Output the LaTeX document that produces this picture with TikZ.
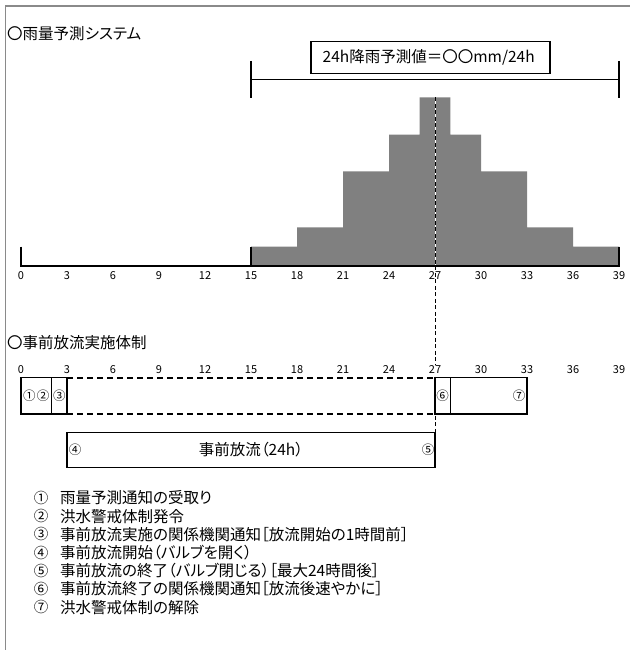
\documentclass[tikz,border=0pt]{standalone}
\usepackage{fontspec}
\setmainfont{Noto Sans CJK JP}[RawFeature=+palt]
\newfontfamily\numfont{Noto Sans CJK JP}
\definecolor{framegray}{HTML}{8A8A8A}
\definecolor{bargray}{HTML}{808080}
\begin{document}
\begin{tikzpicture}[x=1pt,y=-1pt,
  title/.style={anchor=west,inner sep=0pt,font=\fontsize{15.5}{15.5}\selectfont},
  ticklbl/.style={inner sep=0pt,font=\fontsize{11}{11}\selectfont},
  circnum/.style={inner sep=0pt,font=\numfont\fontsize{12.5}{12.5}\selectfont},
  listnum/.style={inner sep=0pt,font=\numfont\fontsize{14.5}{14.5}\selectfont},
  listtxt/.style={anchor=west,inner sep=0pt,font=\fontsize{15.5}{15.5}\selectfont},
  boxline/.style={draw=black,line width=1.2pt},
  guide/.style={draw=black,line width=1pt,dash pattern=on 4pt off 2.5pt},
  thickdash/.style={draw=black,line width=2.2pt,dash pattern=on 6pt off 4pt}]
\useasboundingbox (0,0) rectangle (630,650);
\fill[white] (0,0) rectangle (630,650);
% frame
\draw[framegray,line width=1.5pt] (5.7,650) -- (5.7,6) -- (630,6);

% ---------- section 1 ----------
\node[title] (t1) at (7,34) {〇雨量予測システム};

% bracket
\draw[black,line width=1.2pt] (251,79.3) -- (619,79.3);
\draw[black,line width=1.2pt] (251,61) -- (251,98.3);
\draw[black,line width=1.2pt] (619,61) -- (619,98.3);
\node[draw=black,line width=1.2pt,fill=white,minimum width=239pt,minimum height=31.3pt,inner sep=0pt] (pbox) at (430.5,57.5) {};
\node[anchor=west,inner sep=0pt,font=\fontsize{15.5}{15.5}\selectfont] (ptxt) at (322.5,57.5) {24h降雨予測値＝〇〇mm/24h};

% histogram
\fill[bargray] (251,265.7) |- (297,246.7) |- (343,227.3) |- (389,171.3) |- (419.67,134.7) |- (450.33,97.3)
  |- (481,134.7) |- (527,171.3) |- (573,227.3) |- (619,246.7) -- (619,265.7) -- cycle;

% dashed guide line
\coordinate (dtop) at (435,97.3);
\coordinate (dgray) at (435,265.7);
\coordinate (dbot) at (435,432.7);
\draw[white,line width=1pt] (dtop) -- (dgray);
\draw[guide] (dtop) -- (dbot);

% axis
\draw[black,line width=2.2pt] (20,265.7) -- (620,265.7);
\draw[black,line width=2pt] (21,246.7) -- (21,266.5);
\draw[black,line width=2pt] (251,246.7) -- (251,266.5);
\draw[black,line width=2pt] (619,246.7) -- (619,266.5);
\foreach \h in {0,3,...,39} \node[ticklbl] (ta\h) at ({21+15.3333*\h},275.5) {\h};

% ---------- section 2 ----------
\node[title] (t2) at (7,343) {〇事前放流実施体制};
\foreach \h in {0,3,...,39} \node[ticklbl,fill=white,inner sep=0.6pt] (tb\h) at ({21+15.3333*\h},369.5) {\h};

% row 1
\draw[boxline] (21,377.7) rectangle (51.67,414);
\draw[boxline] (51.67,377.7) rectangle (67,414);
\draw[thickdash] (67,377.7) -- (435,377.7);
\draw[thickdash] (67,414) -- (435,414);
\draw[boxline] (435,377.7) rectangle (450.33,414);
\draw[boxline] (450.33,377.7) rectangle (527,414);
\node[circnum] (n1) at (29.5,396) {①};
\node[circnum] (n2) at (43,396) {②};
\node[circnum] (n3) at (59.3,396) {③};
\node[circnum] (n6) at (442.7,396) {⑥};
\node[circnum] (n7) at (519,396) {⑦};

% row 2
\draw[boxline] (67,432.7) rectangle (435,467.7);
\node[circnum] (n4) at (75,450) {④};
\node[circnum] (n5) at (428,450) {⑤};
\node[inner sep=0pt,font=\fontsize{15.5}{15.5}\selectfont] (r2txt) at (251,450) {事前放流（24h）};

% ---------- legend ----------
\node[listnum] (l1) at (41,498) {①};
\node[listtxt] (m1) at (60,498) {雨量予測通知の受取り};
\node[listnum] (l2) at (41,516.2) {②};
\node[listtxt] (m2) at (60,516.2) {洪水警戒体制発令};
\node[listnum] (l3) at (41,534.4) {③};
\node[listtxt] (m3) at (60,534.4) {事前放流実施の関係機関通知［放流開始の1時間前］};
\node[listnum] (l4) at (41,552.6) {④};
\node[listtxt] (m4) at (60,552.6) {事前放流開始（バルブを開く）};
\node[listnum] (l5) at (41,570.8) {⑤};
\node[listtxt] (m5) at (60,570.8) {事前放流の終了（バルブ閉じる）［最大24時間後］};
\node[listnum] (l6) at (41,589) {⑥};
\node[listtxt] (m6) at (60,589) {事前放流終了の関係機関通知［放流後速やかに］};
\node[listnum] (l7) at (41,607.2) {⑦};
\node[listtxt] (m7) at (60,607.2) {洪水警戒体制の解除};
\end{tikzpicture}
\end{document}
